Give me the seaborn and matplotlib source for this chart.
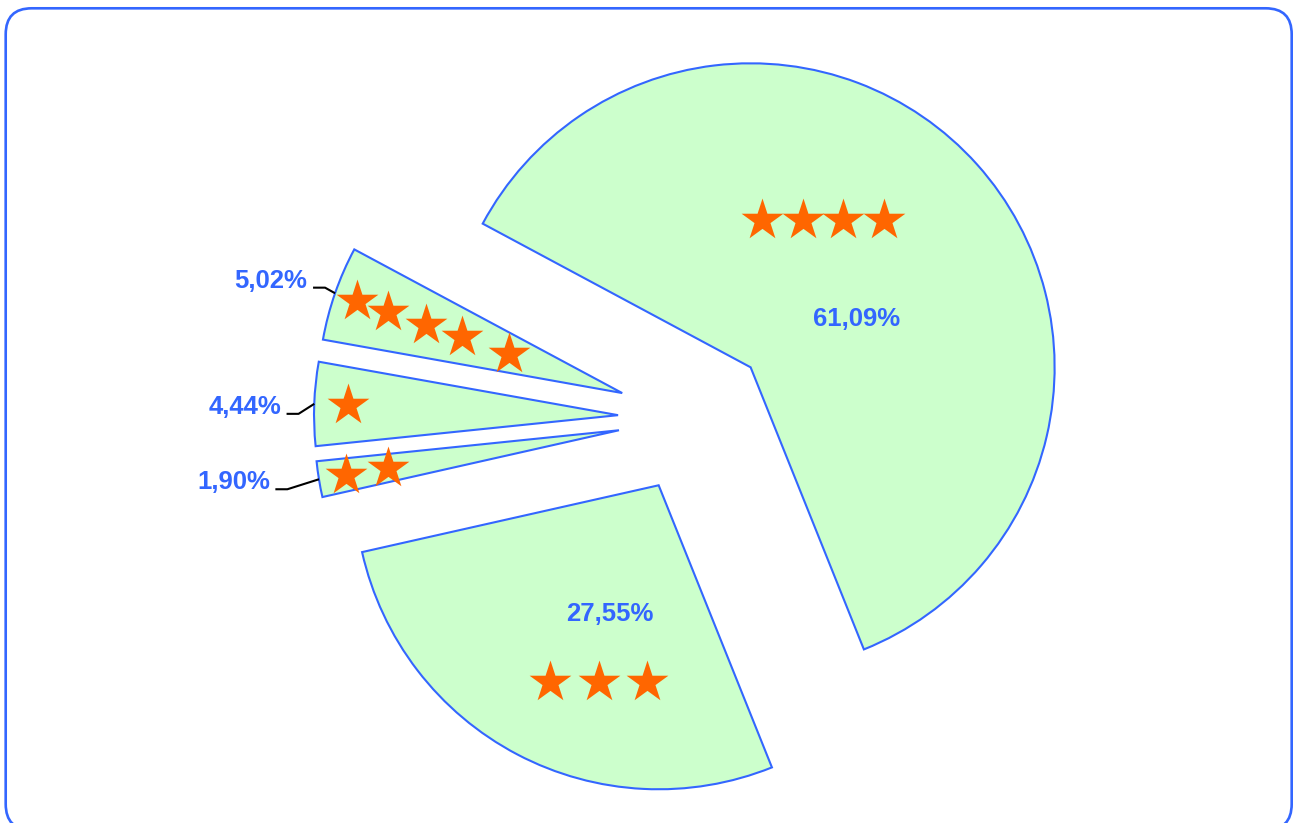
import numpy as np
import pandas as pd
import matplotlib
matplotlib.use("Agg")
import matplotlib.pyplot as plt
import seaborn as sns
from matplotlib.patches import FancyBboxPatch
from matplotlib.transforms import IdentityTransform

# ---------------- data ----------------
categories = ["4 stars", "3 stars", "2 stars", "1 star", "5 stars"]
shares = [61.09, 27.55, 1.90, 4.44, 5.02]
star_counts = [4, 3, 2, 1, 5]
pct_labels = ["61,09%", "27,55%", "1,90%", "4,44%", "5,02%"]

# ---------------- style ----------------
sns.set_theme(style="white")
plt.rcParams["font.family"] = ["Liberation Sans", "DejaVu Sans"]

FILL = "#CCFFCC"
EDGE = "#3366FF"
STAR = "#FF6600"
TXT = "#3366FF"

W, H, DPI = 1293, 823, 100
fig = plt.figure(figsize=(W / DPI, H / DPI), dpi=DPI)
ax = fig.add_axes([0, 0, 1, 1])

R_PX = 304.0          # pie radius in pixels
CX, CY = 694.0, 418.0  # pie centre in pixels (from top-left)

wedges, _ = ax.pie(
    shares,
    explode=[0.25] * len(shares),
    startangle=151.8,
    counterclock=False,
    colors=[FILL] * len(shares),
    wedgeprops=dict(edgecolor=EDGE, linewidth=1.5),
    radius=1.0,
)
ax.set_aspect("auto")

px = 1.0 / R_PX  # one pixel in data units

# layout of stars / labels (per slice)
row_layout = {0: ((0.238, 0.483), 40.6 * px), 1: ((-0.197, -0.648), 48.3 * px)}
big_label_off = {0: (0.348, 0.160), 1: (-0.162, -0.424)}
radial_layout = {2: [0.909, 0.770], 3: [0.889], 4: [0.925, 0.816, 0.684, 0.557, 0.395]}
elbow_off = {2: (-31.6, -10.0), 3: (-15.7, -10.0), 4: (-10.0, 5.6)}

star_pts = []
for i, w in enumerate(wedges):
    cx, cy = w.center
    mid = np.deg2rad((w.theta1 + w.theta2) / 2.0)
    n = star_counts[i]
    if i in row_layout:
        (dx, dy), sp = row_layout[i]
        xs = cx + dx + (np.arange(n) - (n - 1) / 2.0) * sp
        for x in xs:
            star_pts.append((x, cy + dy))
        lx, ly = big_label_off[i]
        ax.text(cx + lx, cy + ly, pct_labels[i], color=TXT, fontsize=18.5,
                fontweight="bold", ha="center", va="center")
    else:
        for r in radial_layout[i]:
            star_pts.append((cx + r * np.cos(mid), cy + r * np.sin(mid)))
        ax_, ay_ = cx + np.cos(mid), cy + np.sin(mid)
        ex, ey = elbow_off[i]
        bx, by = ax_ + ex * px, ay_ + ey * px
        hx = bx - 12.0 * px
        ax.plot([ax_, bx, hx], [ay_, by, by], color="black", lw=1.5,
                solid_capstyle="butt")
        ax.text(hx - 5.5 * px, by, pct_labels[i], color=TXT, fontsize=18.5,
                fontweight="bold", ha="right", va="baseline")

stars_df = pd.DataFrame(star_pts, columns=["x", "y"])
sns.scatterplot(data=stars_df, x="x", y="y", ax=ax, marker="*", s=1000,
                color=STAR, linewidth=0, legend=False, zorder=5)
ax.set_xlim(-CX / R_PX, (W - CX) / R_PX)
ax.set_ylim(-(H - CY) / R_PX, CY / R_PX)
ax.axis("off")

# rounded frame (pixel coords, origin bottom-left)
frame = FancyBboxPatch((5.7, H - 830.0), 1291.7 - 5.7, 830.0 - 8.3,
                       boxstyle="round,pad=0,rounding_size=26",
                       transform=IdentityTransform(), fill=False,
                       edgecolor=EDGE, linewidth=1.9)
fig.add_artist(frame)

fig.savefig("out.png", dpi=DPI)
